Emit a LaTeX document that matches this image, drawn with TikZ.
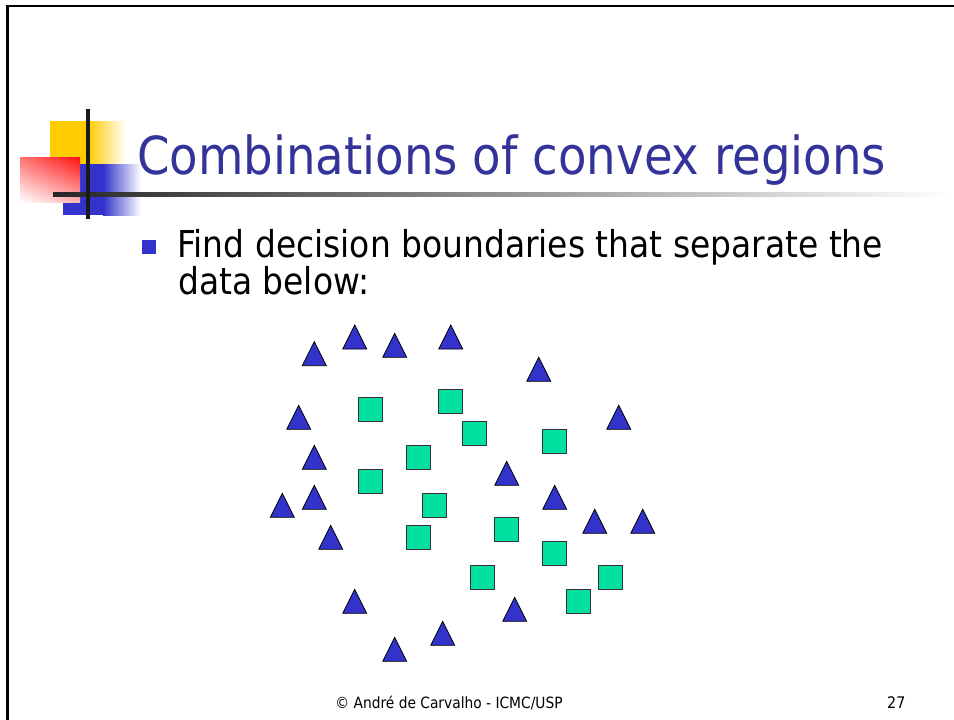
\documentclass[tikz,border=0pt]{standalone}
\usepackage{fontspec}
\usetikzlibrary{shadings}
\setmainfont[FakeStretch=0.89]{DejaVu Sans}
\definecolor{titleblue}{HTML}{333399}
\definecolor{markblue}{HTML}{3333CC}
\definecolor{markgreen}{HTML}{00E0A0}
\definecolor{logoyellow}{HTML}{FFCC00}
\definecolor{logored}{HTML}{FF1010}
\tikzset{
  x=1pt, y=-1pt,
  frameline/.style={draw=black, line width=2.6pt},
  tri/.pic={\filldraw[fill=markblue, draw=black, line width=0.8pt] (0,0) -- (12,24) -- (-12,24) -- cycle;},
  sq/.pic={\filldraw[fill=markgreen, draw=black!80, line width=0.8pt] (-12,-12) rectangle (12,12);},
  txt/.style={inner sep=0pt, anchor=base west}
}
\begin{document}
\begin{tikzpicture}
\useasboundingbox[fill=white] (0,0) rectangle (954,720);

% slide frame (top and left edges only)
\draw[frameline] (7.5,720) -- (7.5,6) -- (954,6);

% logo blocks
\fill[logoyellow] (50,121) rectangle (88,165);
\shade[left color=logoyellow, right color=white] (88,121) rectangle (126,165);
\fill[markblue] (63,164) rectangle (103,215);
\shade[left color=markblue, right color=white] (103,164) rectangle (141,215);
\shade[upper left=red!55!white, upper right=logored, lower left=white, lower right=red!30!white]
  (20,157) rectangle (80,202);

% title rule and logo cross bar
\shade[left color=black!85, right color=white] (53,192) rectangle (950,196);
\fill[black!90] (86,109) rectangle (90,219);

% title
\node[txt, text=titleblue, font=\fontsize{52.4}{60}\selectfont] (title) at (137,174) {Combinations of convex regions};

% bullet item
\fill[markblue] (142,240) rectangle (156,254);
\node[txt, font=\fontsize{37}{44}\selectfont] (line1) at (177,257) {Find decision boundaries that separate the};
\node[txt, font=\fontsize{37}{44}\selectfont] (line2) at (178,294) {data below:};

% class A: triangles (apex positions)
\foreach \px/\py in {314.3/341.7, 354.7/325, 394.7/333.3, 450.7/325, 538.7/357.3,
                     298.7/405.3, 618.7/405.3, 314.3/445.3, 506.7/461.3, 314.3/485.3,
                     282.3/493.3, 554.7/485.3, 330.7/525.3, 594.7/509.3, 642.7/509.3,
                     354.7/589.3, 514.7/597.3, 442.7/621.3, 394.7/637.3}
  \pic at (\px,\py) {tri};

% class B: squares (centres)
\foreach \px/\py in {370.7/409.3, 450.7/401.3, 474.7/433.3, 554.7/441.3, 418.7/457.3,
                     370.7/481.3, 434.7/505.3, 418.7/537.3, 506.7/529.3, 554.7/553.3,
                     482.7/577.3, 610.7/577.3, 578.7/601.3}
  \pic at (\px,\py) {sq};

% footer
\node[inner sep=0pt, anchor=base, font=\fontsize{15.5}{19}\selectfont] (footer) at (449,708) {© André de Carvalho - ICMC/USP};
\node[txt, font=\fontsize{16}{19}\selectfont] (pagenum) at (887,708) {27};
\end{tikzpicture}
\end{document}
